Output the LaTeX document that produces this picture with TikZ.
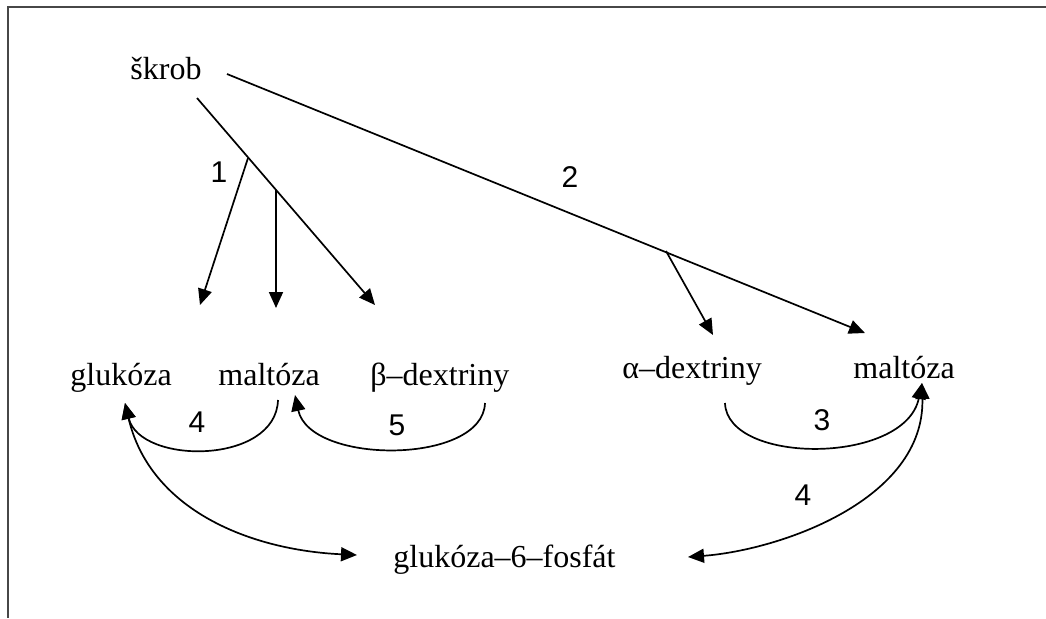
\documentclass[tikz,border=0pt]{standalone}
\usepackage{fontspec}
\setmainfont{Liberation Serif}
\newfontfamily\numfont{Liberation Sans}
\usetikzlibrary{arrows.meta}
\begin{document}
\begin{tikzpicture}[x=0.5pt,y=-0.5pt,
  txt/.style={anchor=base west,inner sep=0pt,font=\fontsize{16}{19}\selectfont},
  num/.style={inner sep=0pt,font=\numfont\fontsize{15}{18}\selectfont},
  conn/.style={line width=0.85pt},
  tip/.style={-{Triangle[length=8pt,width=7pt]}},
  dtip/.style={{Triangle[length=8pt,width=7pt]}-{Triangle[length=8pt,width=7pt]}},
  frame/.style={line width=1.3pt, draw=black!72}]
\useasboundingbox (0,0) rectangle (1046,618);
\draw[frame] (1046,7) -- (8,7) -- (8,618);
% texts
\node[txt] (skrob) at (130,79) {škrob};
\node[txt] (gluk) at (70,385) {glukóza};
\node[txt] (malt1) at (218,385) {maltóza};
\node[txt] (bdex) at (370,385) {β–dextriny};
\node[txt] (adex) at (622,378) {α–dextriny};
\node[txt] (malt2) at (853,378) {maltóza};
\node[txt] (g6p) at (393,567) {glukóza–6–fosfát};
% straight connectors
\coordinate (s1) at (197,98);
\coordinate (s2) at (227,74);
\coordinate (b1) at (248,158);
\coordinate (b2) at (276,190);
\coordinate (b3) at (666,251);
\coordinate (t1) at (200,305);
\coordinate (t2) at (276,308);
\coordinate (t3) at (375,305);
\coordinate (t4) at (713,335);
\coordinate (t5) at (865,333);
\draw[conn,tip] (s1) -- (t3);
\draw[conn,tip] (b1) -- (t1);
\draw[conn,tip] (b2) -- (t2);
\draw[conn,tip] (s2) -- (t5);
\draw[conn,tip] (b3) -- (t4);
% curve end points
\coordinate (m1b) at (278,400);
\coordinate (gt) at (125,403);
\coordinate (bdb) at (485,403);
\coordinate (m1t) at (295,395);
\coordinate (adb) at (725,403);
\coordinate (m2t) at (922,383);
\coordinate (g6l) at (357,555);
\coordinate (g6r) at (688,557);
\draw[conn,tip] (m1b) .. controls (276,465) and (140,465) .. (gt);
\draw[conn,tip] (bdb) .. controls (483,465) and (310,465) .. (m1t);
\draw[conn,tip] (adb) .. controls (727,465) and (905,465) .. (m2t);
\draw[conn,dtip] (gt) .. controls (150,510) and (250,550) .. (g6l);
\draw[conn,dtip] (m2t) .. controls (925,500) and (780,550) .. (g6r);
% labels
\node[num] (l1) at (219,172) {1};
\node[num] (l2) at (570,177) {2};
\node[num] (l4a) at (197,422) {4};
\node[num] (l5) at (397,425) {5};
\node[num] (l3) at (822,420) {3};
\node[num] (l4b) at (803,495) {4};
\end{tikzpicture}
\end{document}
